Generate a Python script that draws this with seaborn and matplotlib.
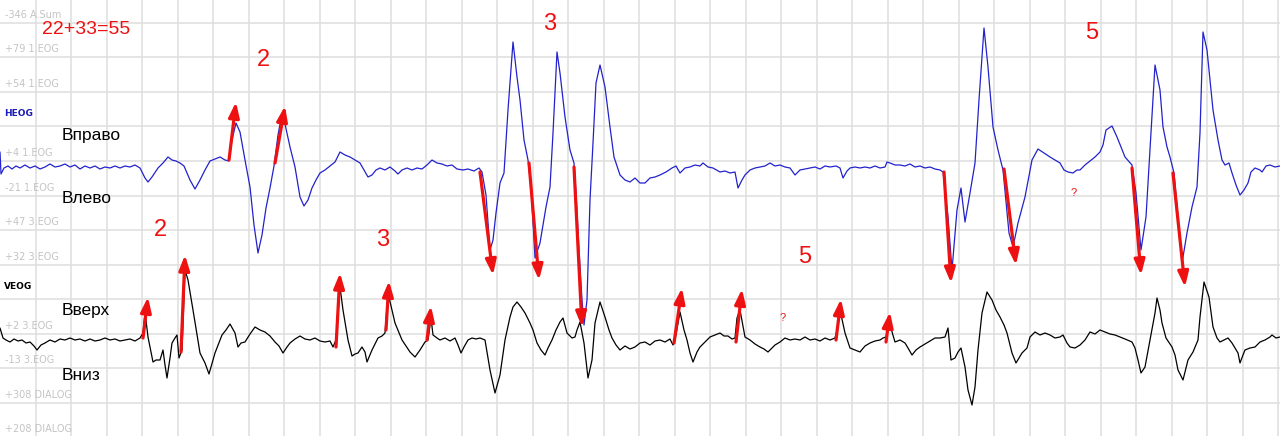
import numpy as np
import pandas as pd
import seaborn as sns
import matplotlib.pyplot as plt

# HEOG trace: time (px) and deflection from channel baseline (up = positive)
heog_t = [0, 1, 4, 8, 12, 16, 20, 25, 30, 35, 40, 45, 50, 55, 60, 65, 70, 75, 80, 85,
          90, 95, 100, 105, 110, 115, 120, 125, 130, 135, 140, 145, 148, 152, 158, 163, 168, 172, 176, 180,
          184, 190, 195, 200, 205, 210, 215, 220, 225, 229, 232, 236, 240, 245, 250, 254, 258, 262, 266, 270,
          274, 278, 281, 285, 290, 295, 300, 304, 308, 312, 316, 320, 325, 330, 335, 340, 345, 350, 355, 360,
          364, 368, 372, 376, 380, 385, 390, 395, 398, 402, 407, 412, 417, 422, 427, 432, 437, 442, 447, 452,
          457, 463, 468, 474, 479, 482, 486, 490, 493, 496, 500, 504, 508, 513, 517, 520, 524, 528, 531, 535,
          540, 546, 550, 553, 557, 560, 565, 570, 574, 576, 579, 582, 584, 587, 590, 593, 596, 600, 605, 610,
          614, 620, 625, 630, 635, 640, 645, 650, 655, 660, 666, 672, 676, 680, 685, 690, 695, 700, 703, 708,
          713, 720, 725, 730, 735, 738, 742, 745, 750, 755, 760, 765, 770, 775, 780, 785, 790, 795, 800, 805,
          810, 815, 820, 825, 830, 836, 840, 843, 847, 850, 855, 860, 865, 870, 875, 880, 885, 887, 890, 895,
          900, 905, 910, 915, 920, 925, 930, 935, 940, 943, 948, 952, 957, 961, 965, 970, 975, 979, 984, 988,
          993, 998, 1003, 1009, 1013, 1018, 1025, 1032, 1038, 1044, 1050, 1055, 1060, 1064, 1068, 1073, 1077, 1080, 1085, 1090,
          1095, 1100, 1103, 1106, 1112, 1117, 1121, 1125, 1132, 1136, 1141, 1146, 1151, 1155, 1160, 1163, 1167, 1170, 1174, 1178,
          1182, 1187, 1192, 1197, 1200, 1203, 1207, 1213, 1218, 1222, 1225, 1229, 1232, 1236, 1240, 1244, 1248, 1251, 1255, 1260,
          1262, 1266, 1270, 1275, 1280]
heog_v = [15, -7, -1, 1, -2, 1, -1, 2, -1, 1, -2, 0, 3, 0, 1, 3, 0, 2, -2, 1,
          -1, 1, -2, 0, -1, 1, -1, 1, 0, 2, -1, -11, -15, -10, -1, 4, 10, 7, 6, 4,
          1, -13, -22, -13, -3, 6, 8, 10, 7, 6, 27, 44, 35, 7, -20, -58, -86, -68, -41, -21,
          1, 32, 48, 43, 20, 0, -30, -39, -33, -21, -13, -6, -3, 1, 5, 15, 12, 10, 7, 4,
          -3, -10, -8, -3, -1, -3, 0, -4, -7, -3, -1, -3, -1, -2, 2, 7, 4, 3, 1, 2,
          -2, -3, -2, -4, -1, -5, -28, -83, -73, -46, -16, -6, 57, 125, 90, 67, 27, 7, -20, -91,
          -76, -40, -20, 34, 115, 94, 50, 17, 4, -26, -83, -133, -158, -133, -33, 24, 84, 102, 80, 40,
          10, -8, -13, -15, -11, -16, -16, -11, -10, -8, -5, -1, 1, -6, -1, 0, 2, 1, 4, 0,
          -1, -5, -4, -6, -5, -21, -13, -8, -3, -1, 0, 1, 4, 1, 2, 0, -1, -8, -3, -2,
          -1, 0, -2, 1, 0, 1, -1, -11, -4, -1, 0, -1, 0, -1, 1, -1, 0, 5, 4, 2,
          2, 1, 3, 0, 1, -1, 0, -2, -3, -5, -50, -103, -43, -21, -55, -26, 4, 67, 139, 100,
          40, 17, -3, -66, -80, -56, -30, 7, 18, 14, 10, 7, 4, -3, -5, -6, -3, -3, 2, 6,
          10, 15, 22, 37, 41, 30, 20, 10, 2, -26, -83, -50, 34, 102, 77, 40, 20, 10, -6, -50,
          -96, -66, -40, -20, 34, 135, 117, 57, 27, 7, 2, 4, -6, -18, -28, -23, -16, -5, -1, -3,
          -5, 1, 2, 0, 1]

# VEOG trace
veog_t = [0, 3, 6, 10, 14, 18, 22, 26, 30, 34, 37, 41, 45, 50, 55, 60, 65, 70, 75, 80,
          85, 90, 95, 100, 105, 110, 115, 120, 125, 130, 135, 140, 143, 145, 148, 153, 156, 160, 163, 165,
          167, 170, 172, 175, 177, 179, 182, 185, 188, 193, 200, 205, 209, 215, 222, 226, 230, 235, 238, 241,
          245, 250, 255, 260, 265, 270, 275, 279, 283, 287, 290, 295, 300, 305, 310, 315, 320, 325, 330, 333,
          336, 340, 343, 348, 352, 355, 358, 362, 365, 367, 372, 378, 382, 385, 388, 392, 395, 402, 406, 410,
          415, 420, 425, 428, 431, 433, 437, 440, 445, 450, 455, 458, 461, 464, 468, 472, 476, 480, 485, 490,
          495, 500, 505, 510, 513, 517, 521, 525, 530, 533, 537, 541, 545, 548, 552, 556, 560, 563, 567, 570,
          572, 575, 577, 580, 584, 588, 592, 595, 600, 605, 609, 612, 616, 620, 625, 630, 635, 640, 645, 650,
          655, 660, 665, 670, 673, 675, 680, 684, 687, 690, 693, 697, 700, 705, 710, 715, 720, 724, 728, 732,
          735, 737, 740, 745, 750, 755, 760, 764, 768, 772, 775, 780, 785, 790, 795, 800, 805, 810, 815, 820,
          825, 830, 835, 838, 840, 845, 850, 855, 860, 865, 870, 875, 880, 883, 886, 890, 893, 895, 900, 905,
          908, 912, 916, 920, 925, 930, 935, 940, 945, 948, 951, 955, 958, 961, 965, 968, 972, 975, 978, 982,
          987, 992, 996, 1000, 1004, 1007, 1012, 1016, 1019, 1022, 1027, 1030, 1035, 1040, 1045, 1050, 1055, 1060, 1063, 1067,
          1070, 1075, 1080, 1085, 1090, 1095, 1100, 1105, 1110, 1115, 1120, 1125, 1132, 1135, 1138, 1141, 1145, 1150, 1155, 1157,
          1160, 1162, 1166, 1172, 1175, 1178, 1183, 1188, 1193, 1198, 1200, 1204, 1209, 1213, 1217, 1220, 1224, 1228, 1232, 1235,
          1238, 1240, 1243, 1245, 1250, 1255, 1260, 1265, 1270, 1272, 1276, 1280]
veog_v = [12, 2, 0, -2, 1, -1, 0, -3, -2, -6, -10, -5, -3, 0, -2, 1, 0, 2, 0, 1,
          -1, 1, -1, 0, 2, 0, 1, -1, 0, 1, -1, 2, 7, 28, 3, -22, -20, -20, -10, -25,
          -38, -18, -3, 2, 5, -18, -10, 70, 60, 30, -13, -23, -34, -13, 5, 10, 16, 7, -7, -3,
          -2, 6, 13, 10, 8, 4, -2, -6, -13, -7, -3, 1, 4, 1, 0, 2, -1, -2, -1, -7,
          0, 53, 30, 0, -16, -14, -13, -7, -12, -22, -10, 2, 4, 7, 47, 30, 17, 0, -6, -12,
          -17, -10, -2, 0, 22, 5, 2, 0, 2, -1, 2, -5, -13, -7, 0, 2, 1, 2, 0, -30,
          -53, -35, 0, 23, 33, 38, 33, 27, 17, 10, -3, -10, -15, -8, 0, 10, 18, 22, 7, 4,
          2, 3, 10, 18, -3, -38, -20, 17, 38, 23, 10, 2, -5, -10, -6, -9, -7, -3, -2, -5,
          -1, 0, -2, 1, -5, 0, 28, 10, 0, -13, -22, -12, -7, -2, 3, 5, 7, 4, 4, 1,
          2, 22, 30, 3, 0, -4, -7, -9, -12, -8, -5, -2, 2, 0, 1, 0, 3, 0, 1, -1,
          2, 0, 2, 13, 30, 7, -8, -10, -12, -6, -3, -1, 0, 2, 3, 15, 5, -2, 0, -3,
          -8, -15, -10, -7, -4, -1, 2, 2, 3, 12, -20, -18, -12, -8, -27, -50, -65, -47, -10, 27,
          48, 40, 30, 23, 15, 7, -13, -23, -18, -13, -8, 3, 8, 5, 7, 5, 2, 3, 5, -3,
          -7, -8, -5, 0, 8, 6, 10, 8, 6, 5, 3, 1, -2, -8, -20, -33, -27, 0, 27, 42,
          30, 17, 2, -7, -15, -30, -40, -20, -12, 0, 23, 58, 43, 13, 2, -2, 0, 2, -3, -8,
          -13, -23, -15, -10, -8, -7, -2, 0, 3, 5, 2, 3]

# marked saccades: start time, start value, tip time, tip value
heog_arrows = [(229, 7, 236, 65), (275, 4, 285, 61), (480, -5, 493, -108),
               (529, 4, 539, -113), (574, 0, 582, -160), (944, -5, 951, -116),
               (1004, -2, 1016, -98), (1132, -1, 1141, -108), (1173, -6, 1185, -120)]
veog_arrows = [(143, 2, 148, 43), (181, -12, 185, 85), (336, -7, 340, 67),
               (386, 10, 389, 59), (427, 0, 431, 34), (674, -3, 682, 52),
               (736, -2, 742, 51), (836, 0, 841, 41), (886, -2, 890, 28)]

scale_labels = ['-346 A.Sum', '+79 1.EOG', '+54 1.EOG', '', '+4 1.EOG', '-21 1.EOG',
                '+47 3.EOG', '+32 3.EOG', '', '+2 3.EOG', '-13 3.EOG', '+308 DIALOG', '+208 DIALOG']
direction_labels = ['Вправо', 'Влево', 'Вверх', 'Вниз']
counts = ['2', '3', '5', '2', '3', '5']

HEOG_BASE = 167
VEOG_BASE = 340
RED = '#ee1111'

sns.set_style('white')
plt.rcParams['font.family'] = ['Liberation Sans', 'DejaVu Sans']

fig = plt.figure(figsize=(12.8, 4.36), dpi=100)
ax = fig.add_axes([0, 0, 1, 1])

heog = pd.DataFrame({'t': heog_t, 'v': HEOG_BASE - np.array(heog_v)})
veog = pd.DataFrame({'t': veog_t, 'v': VEOG_BASE - np.array(veog_v)})
sns.lineplot(data=heog, x='t', y='v', ax=ax, color='#2222cc', lw=0.9,
             sort=False, estimator=None, zorder=3)
sns.lineplot(data=veog, x='t', y='v', ax=ax, color='black', lw=0.9,
             sort=False, estimator=None, zorder=3)

for base, arrows in [(HEOG_BASE, heog_arrows), (VEOG_BASE, veog_arrows)]:
    for t0, v0, t1, v1 in arrows:
        ax.annotate('', xy=(t1, base - v1), xytext=(t0, base - v0),
                    arrowprops=dict(arrowstyle='-|>,head_length=0.9,head_width=0.32',
                                    color=RED, lw=2.3, shrinkA=0, shrinkB=0,
                                    mutation_scale=10), zorder=4)

# screen grid
ax.set_xlim(0, 1280)
ax.set_ylim(436, 0)
ax.set_xticks(np.arange(35.5, 1280, 35.5))
ax.set_yticks(np.arange(23, 420, 34.5))
ax.grid(True, color='#e0e0e0', lw=1.2)
ax.tick_params(length=0, labelbottom=False, labelleft=False)
ax.set_xlabel('')
ax.set_ylabel('')
for s in ax.spines.values():
    s.set_visible(False)

# channel scale labels sit just above each grid line
for i, lab in enumerate(scale_labels):
    if lab:
        ax.text(5, 23 + 34.5 * i - 8, lab, fontsize=7, color='#c4c4c4',
                family='DejaVu Sans', va='center', ha='left')
ax.text(4, 113, 'HEOG', fontsize=6.5, color='#1a1ab8', fontweight='bold',
        family='DejaVu Sans', va='center')
ax.text(4, 286, 'VEOG', fontsize=6.5, color='black', fontweight='bold',
        family='DejaVu Sans', va='center')

for lab, y in zip(direction_labels, [135, 198, 310, 375]):
    ax.text(62, y, lab, fontsize=12.5, color='black', va='center', ha='left')

ax.text(42, 30, '22+33=55', fontsize=14, color=RED, va='center', ha='left')
for lab, (x, y) in zip(counts, [(263, 60), (550, 24), (1092, 33),
                                 (160, 230), (383, 240), (805, 257)]):
    ax.text(x, y, lab, fontsize=17, color=RED, va='center', ha='center')
for x, y in [(1074, 193), (783, 318)]:
    ax.text(x, y, '?', fontsize=8, color=RED, va='center', ha='center')

fig.savefig('out.png', dpi=100)
